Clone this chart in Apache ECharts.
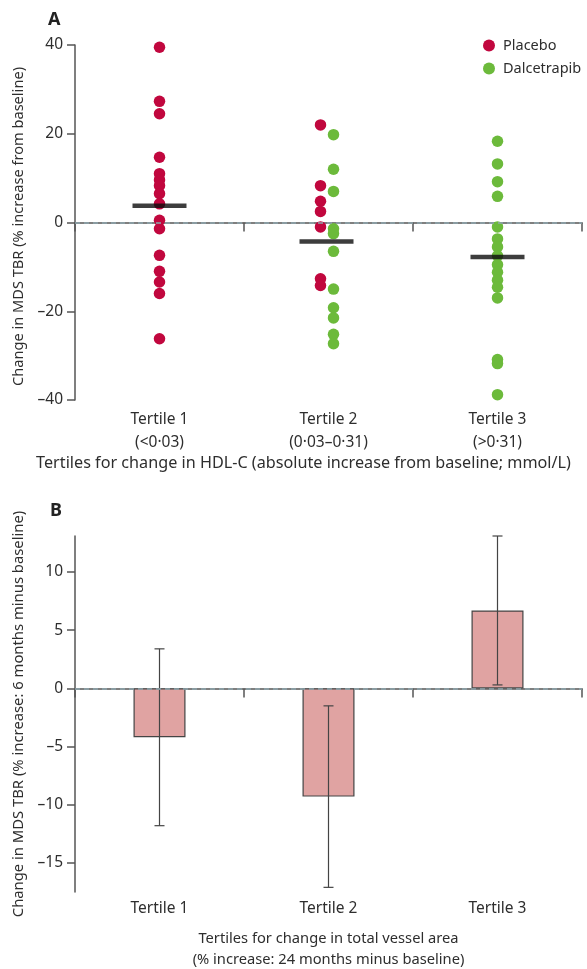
<!DOCTYPE html>
<html>
<head>
<meta charset="utf-8">
<script src="https://cdn.jsdelivr.net/npm/echarts@6/dist/echarts.min.js"></script>
<style>
  html, body { margin: 0; padding: 0; background: #fff; }
  #chart { width: 587px; height: 969px; }
</style>
</head>
<body>
<div id="chart"></div>
<script>
// panel A: individual changes by HDL-C tertile
const tertileNames = ['Tertile 1', 'Tertile 2', 'Tertile 3'];
const hdlRanges = ['(<0·03)', '(0·03–0·31)', '(>0·31)'];
const placeboT1 = [39.5, 27.3, 24.5, 14.7, 11, 9.6, 8.3, 6.5, 4.2, 0.5, -1.4, -7.4, -11, -13.4, -16, -26.2];
const placeboT2 = [22, 8.3, 4.8, 2.5, -1, -12.7, -14.2];
const dalT2 = [19.8, 12, 7, -1.4, -2.5, -6.5, -15, -19.2, -21.5, -25.2, -27.3];
const dalT3 = [18.3, 13.2, 9.2, 5.9, -1, -3.7, -5.5, -7.5, -9.5, -11.2, -13, -14.6, -17, -30.9, -31.8, -38.8];
const tertileMeans = [3.8, -4.3, -7.8];

// panel B: mean change with error bars by vessel-area tertile
const barMeans = [-4.2, -9.3, 6.7];
const barLow = [-11.8, -17.1, 0.3];
const barHigh = [3.4, -1.5, 13.1];
const bTicks = [-15, -10, -5, 0, 5, 10];

const FONT = 'Noto Sans';
const AXIS = '#555';
const TXT = '#2e2e2e';
const RED = '#c1073e';
const GREEN = '#6cba3b';

const minus = v => (v < 0 ? '–' + Math.abs(v) : String(v));

const chart = echarts.init(document.getElementById('chart'));

const placeboData = placeboT1.map(v => ({ value: [0, v] }))
  .concat(placeboT2.map(v => ({ value: [1, v], symbolOffset: [-8, 0] })));
const dalData = dalT2.map(v => ({ value: [1, v], symbolOffset: [5, 0] }))
  .concat(dalT3.map(v => ({ value: [2, v] })));
const meanData = tertileMeans.map((v, i) => ({ value: [i, v], symbolOffset: [i === 1 ? -2 : 0, 0] }));

const zeroLine = {
  silent: true,
  symbol: 'none',
  label: { show: false },
  lineStyle: { type: [5, 4], color: '#8ea6ae', width: 1.5 },
  data: [{ yAxis: 0 }]
};

const commonX = {
  type: 'category',
  boundaryGap: true,
  axisLine: { lineStyle: { color: AXIS, width: 1.5 } },
  axisTick: { show: true, length: 9, alignWithLabel: false, lineStyle: { color: AXIS, width: 1.5 } },
  nameLocation: 'middle'
};

const panelTitle = { fontFamily: FONT, fontSize: 18, fontWeight: 'bold', color: '#222' };

const option = {
  animation: false,
  backgroundColor: '#fff',
  title: [
    { text: 'A', left: 43, top: 6, textStyle: panelTitle },
    { text: 'B', left: 45, top: 497, textStyle: panelTitle }
  ],
  legend: {
    data: ['Placebo', 'Dalcetrapib'],
    orient: 'vertical',
    left: 478,
    top: 33,
    icon: 'circle',
    itemWidth: 12,
    itemHeight: 12,
    itemGap: 8,
    textStyle: { fontFamily: FONT, fontSize: 14.5, color: TXT, padding: [0, 0, 0, 3] }
  },
  grid: [
    { left: 75, right: 5, top: 45, height: 355, containLabel: false, outerBoundsMode: 'none' },
    { left: 75, right: 5, top: 536, height: 356, containLabel: false, outerBoundsMode: 'none' }
  ],
  xAxis: [
    Object.assign({}, commonX, {
      gridIndex: 0,
      data: tertileNames.map((t, i) => t + '\n' + hdlRanges[i]),
      name: 'Tertiles for change in HDL-C (absolute increase from baseline; mmol/L)',
      nameGap: 55,
      nameTextStyle: { fontFamily: FONT, fontSize: 16.2, color: TXT, padding: [0, 50, 0, 0] },
      axisLabel: { fontFamily: FONT, fontSize: 15.5, color: TXT, lineHeight: 23, margin: 8 }
    }),
    Object.assign({}, commonX, {
      gridIndex: 1,
      data: tertileNames,
      name: 'Tertiles for change in total vessel area\n(% increase: 24 months minus baseline)',
      nameGap: 36,
      nameTextStyle: { fontFamily: FONT, fontSize: 14.7, color: TXT, lineHeight: 21 },
      axisLabel: { fontFamily: FONT, fontSize: 15.5, color: TXT, margin: 9 }
    })
  ],
  yAxis: [
    {
      type: 'value',
      gridIndex: 0,
      min: -40,
      max: 40,
      interval: 20,
      splitLine: { show: false },
      axisLine: { show: true, lineStyle: { color: AXIS, width: 1.5 } },
      axisTick: { show: true, length: 8, lineStyle: { color: AXIS, width: 1.5 } },
      axisLabel: { fontFamily: FONT, fontSize: 15.5, color: TXT, margin: 12, formatter: minus },
      name: 'Change in MDS TBR (% increase from baseline)',
      nameLocation: 'middle',
      nameGap: 47,
      nameTextStyle: { fontFamily: FONT, fontSize: 14.6, color: TXT, padding: [0, 8, 0, 0] }
    },
    {
      type: 'value',
      gridIndex: 1,
      min: -17.5,
      max: 13.1,
      splitLine: { show: false },
      axisLine: { show: true, lineStyle: { color: AXIS, width: 1.5 } },
      axisTick: { show: true, length: 8, customValues: bTicks, lineStyle: { color: AXIS, width: 1.5 } },
      axisLabel: { fontFamily: FONT, fontSize: 15.5, color: TXT, margin: 12, customValues: bTicks, formatter: minus },
      name: 'Change in MDS TBR (% increase: 6 months minus baseline)',
      nameLocation: 'middle',
      nameGap: 47,
      nameTextStyle: { fontFamily: FONT, fontSize: 14.8, color: TXT }
    }
  ],
  series: [
    {
      name: 'zeroA',
      type: 'scatter',
      xAxisIndex: 0,
      yAxisIndex: 0,
      data: [],
      z: 1,
      markLine: zeroLine
    },
    {
      name: 'Placebo',
      type: 'scatter',
      xAxisIndex: 0,
      yAxisIndex: 0,
      symbolSize: 11.5,
      itemStyle: { color: RED, opacity: 1 },
      data: placeboData,
      z: 3
    },
    {
      name: 'Dalcetrapib',
      type: 'scatter',
      xAxisIndex: 0,
      yAxisIndex: 0,
      symbolSize: 11.5,
      itemStyle: { color: GREEN, opacity: 1 },
      data: dalData,
      z: 3
    },
    {
      name: 'mean',
      type: 'scatter',
      xAxisIndex: 0,
      yAxisIndex: 0,
      symbol: 'rect',
      symbolSize: [54, 4.5],
      itemStyle: { color: '#0d0d0d' },
      data: meanData,
      z: 5
    },
    {
      name: 'barB',
      type: 'bar',
      xAxisIndex: 1,
      yAxisIndex: 1,
      barWidth: 52,
      itemStyle: { color: '#e0a3a2', borderColor: '#444', borderWidth: 1.2 },
      data: barMeans,
      z: 2,
      markLine: zeroLine
    },
    {
      name: 'errB',
      type: 'custom',
      xAxisIndex: 1,
      yAxisIndex: 1,
      z: 4,
      encode: { x: 0, y: [1, 2] },
      data: barLow.map((lo, i) => [i, lo, barHigh[i]]),
      renderItem: function (params, api) {
        const lo = api.coord([api.value(0), api.value(1)]);
        const hi = api.coord([api.value(0), api.value(2)]);
        const half = 5;
        const style = { stroke: '#444', lineWidth: 1.2 };
        return {
          type: 'group',
          children: [
            { type: 'line', shape: { x1: lo[0], y1: lo[1], x2: hi[0], y2: hi[1] }, style: style },
            { type: 'line', shape: { x1: hi[0] - half, y1: hi[1], x2: hi[0] + half, y2: hi[1] }, style: style },
            { type: 'line', shape: { x1: lo[0] - half, y1: lo[1], x2: lo[0] + half, y2: lo[1] }, style: style }
          ]
        };
      }
    }
  ]
};

chart.setOption(option);
</script>
</body>
</html>
